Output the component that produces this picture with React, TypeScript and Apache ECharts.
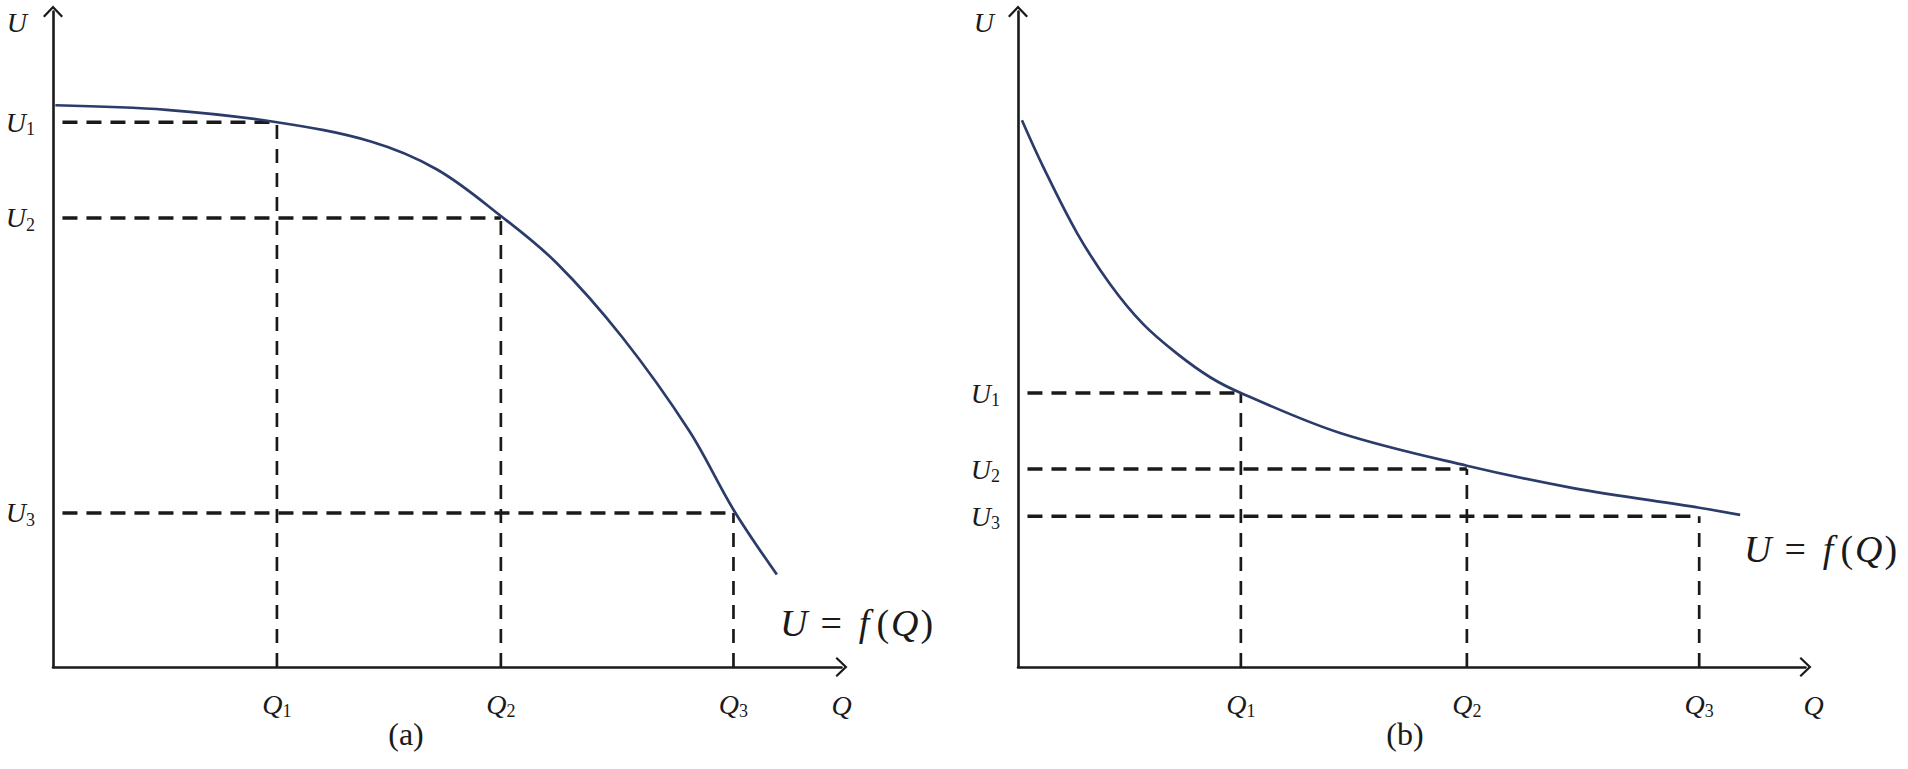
import React, { useEffect, useRef } from 'react';
import * as echarts from 'echarts';

// ---- data (axis units 0..10 on both axes of each panel) ----
const SUBS = ['1', '2', '3'];

// panel (a)
const Q_A = [2.84, 5.68, 8.63];
const U_A = [8.31, 6.85, 2.35];
const CURVE_A_Q = [0.03, 1.44, 2.84, 4.02, 4.87, 5.68, 6.39, 7.22, 8.07, 8.63, 9.18];
const CURVE_A_U = [8.57, 8.5, 8.31, 8.02, 7.59, 6.88, 6.16, 5.03, 3.6, 2.4, 1.41];

// panel (b)
const Q_B = [2.83, 5.7, 8.65];
const U_B = [4.18, 3.02, 2.3];
const CURVE_B_Q = [0.05, 0.32, 0.75, 1.17, 1.59, 2.02, 2.44, 2.83, 4.09, 5.7, 7.05, 8.65, 9.17];
const CURVE_B_U = [8.34, 7.63, 6.62, 5.84, 5.23, 4.78, 4.42, 4.18, 3.57, 3.07, 2.73, 2.43, 2.32];

const AXIS_MIN = 0;
const AXIS_MAX = 10;
const DASH_START = 0.12;

// ---- styles ----
const INK = '#1a1a1a';
const CURVE_COLOR = '#2b3c6a';
const SERIF = "'Liberation Serif', 'DejaVu Serif', serif";
const ARROW = 'path://M10,0L20,10.5L18.4,12L10,3.2L1.6,12L0,10.5Z';

const TICK_RICH = {
  i: { fontFamily: SERIF, fontStyle: 'italic', fontSize: 28, color: INK, lineHeight: 32 },
  s: { fontFamily: SERIF, fontSize: 18, color: INK, lineHeight: 18, verticalAlign: 'bottom' },
};

function nearestIndex(arr: number[], v: number) {
  let best = 0;
  arr.forEach((a, i) => {
    if (Math.abs(a - v) < Math.abs(arr[best] - v)) best = i;
  });
  return best;
}

function xAxisFor(gridIndex: number, qs: number[], nameGap: number) {
  return {
    type: 'value',
    gridIndex,
    min: AXIS_MIN,
    max: AXIS_MAX,
    name: 'Q',
    nameLocation: 'end',
    nameGap,
    nameTextStyle: {
      fontFamily: SERIF,
      fontStyle: 'italic',
      fontSize: 28,
      color: INK,
      align: 'center',
      verticalAlign: 'top',
      padding: [24, 0, 0, 0],
    },
    axisLine: {
      show: true,
      onZero: false,
      symbol: ['none', ARROW],
      symbolSize: [20, 13],
      lineStyle: { color: INK, width: 2.6 },
    },
    axisTick: { show: false },
    splitLine: { show: false },
    axisLabel: {
      show: true,
      customValues: qs,
      margin: 21,
      formatter: (v: number) => `{i|Q}{s|${SUBS[nearestIndex(qs, v)]}}`,
      rich: TICK_RICH,
    },
  };
}

function yAxisFor(gridIndex: number, us: number[], namePad: number) {
  return {
    type: 'value',
    gridIndex,
    min: AXIS_MIN,
    max: AXIS_MAX,
    name: 'U',
    nameLocation: 'end',
    nameGap: -11,
    nameTextStyle: {
      fontFamily: SERIF,
      fontStyle: 'italic',
      fontSize: 28,
      color: INK,
      align: 'right',
      verticalAlign: 'middle',
      padding: [0, namePad, 0, 0],
    },
    axisLine: {
      show: true,
      onZero: false,
      symbol: ['none', ARROW],
      symbolSize: [20, 13],
      lineStyle: { color: INK, width: 2.6 },
    },
    axisTick: { show: false },
    splitLine: { show: false },
    axisLabel: {
      show: true,
      customValues: us,
      margin: 18,
      formatter: (v: number) => `{i|U}{s|${SUBS[nearestIndex(us, v)]}}`,
      rich: TICK_RICH,
    },
  };
}

function panelSeries(idx: number, qs: number[], us: number[], cq: number[], cu: number[]) {
  const out: any[] = [];
  qs.forEach((q, i) => {
    out.push({
      type: 'line',
      xAxisIndex: idx,
      yAxisIndex: idx,
      data: [
        [DASH_START, us[i]],
        [q, us[i]],
      ],
      symbol: 'none',
      silent: true,
      z: 2,
      lineStyle: { color: INK, width: 3.6, type: [15, 9] },
    });
    out.push({
      type: 'line',
      xAxisIndex: idx,
      yAxisIndex: idx,
      data: [
        [q, AXIS_MIN],
        [q, us[i]],
      ],
      symbol: 'none',
      silent: true,
      z: 2,
      lineStyle: { color: INK, width: 2.7, type: [14, 10] },
    });
  });
  out.push({
    type: 'line',
    xAxisIndex: idx,
    yAxisIndex: idx,
    data: cq.map((q, i) => [q, cu[i]]),
    smooth: 0.35,
    symbol: 'none',
    silent: true,
    z: 3,
    lineStyle: { color: CURVE_COLOR, width: 2.7 },
  });
  return out;
}

const EQ_RICH = {
  i: { fontFamily: SERIF, fontStyle: 'italic', fontSize: 38, fill: INK, color: INK },
  o: { fontFamily: SERIF, fontSize: 38, fill: INK, color: INK, padding: [0, 13, 0, 13] },
  f: { fontFamily: SERIF, fontStyle: 'italic', fontSize: 38, fill: INK, color: INK, padding: [0, 5, 0, 4] },
  p: { fontFamily: SERIF, fontSize: 38, fill: INK, color: INK, padding: [0, 2, 0, 2] },
};
const EQ_TEXT = '{i|U}{o|=}{f|f}{p|(}{i|Q}{p|)}';

export default function App() {
  const ref = useRef<HTMLDivElement>(null);

  useEffect(() => {
    document.body.style.margin = '0';
    if (!ref.current) return;
    const chart = echarts.init(ref.current, undefined, { renderer: 'svg' });
    chart.setOption({
      animation: false,
      backgroundColor: '#ffffff',
      textStyle: { fontFamily: SERIF },
      grid: [
        { left: 53, right: 1066.5, top: 11.5, bottom: 102, containLabel: false, outerBoundsMode: 'none' },
        { left: 1018, right: 102.5, top: 11.5, bottom: 102, containLabel: false, outerBoundsMode: 'none' },
      ],
      xAxis: [xAxisFor(0, Q_A, 0), xAxisFor(1, Q_B, 8)],
      yAxis: [yAxisFor(0, U_A, 26), yAxisFor(1, U_B, 24)],
      series: [
        ...panelSeries(0, Q_A, U_A, CURVE_A_Q, CURVE_A_U),
        ...panelSeries(1, Q_B, U_B, CURVE_B_Q, CURVE_B_U),
      ],
      graphic: [
        {
          type: 'text',
          x: 406,
          y: 734,
          style: { text: '(a)', fontFamily: SERIF, fontSize: 32, fill: INK, align: 'center', verticalAlign: 'middle' },
        },
        {
          type: 'text',
          x: 1405,
          y: 734,
          style: { text: '(b)', fontFamily: SERIF, fontSize: 32, fill: INK, align: 'center', verticalAlign: 'middle' },
        },
        {
          type: 'text',
          x: 780,
          y: 623,
          style: { text: EQ_TEXT, rich: EQ_RICH, align: 'left', verticalAlign: 'middle' },
        },
        {
          type: 'text',
          x: 1744,
          y: 549,
          style: { text: EQ_TEXT, rich: EQ_RICH, align: 'left', verticalAlign: 'middle' },
        },
      ],
    });
    return () => chart.dispose();
  }, []);

  return (
    <div
      ref={ref}
      style={{ position: 'fixed', left: 0, top: 0, width: '1908px', height: '769px', background: '#fff' }}
    />
  );
}
